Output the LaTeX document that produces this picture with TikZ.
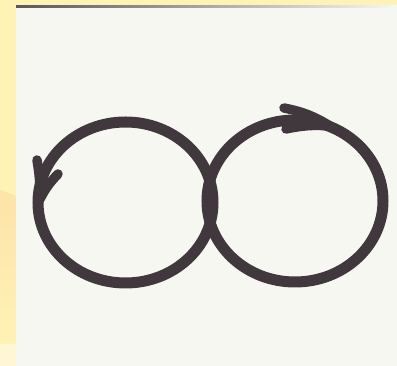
\documentclass[tikz,border=0pt]{standalone}
\definecolor{LoopClr}{rgb}{0.25,0.22,0.24}
\definecolor{PaperClr}{rgb}{0.97,0.97,0.95}
\definecolor{EdgeClr}{rgb}{1,0.95,0.71}
\definecolor{SpotClr}{rgb}{0.99,0.89,0.66}

\begin{document}
\begin{tikzpicture}[x=1pt,y=1pt,
  loop/.style={line width=11pt,color=LoopClr},
  barb/.style={line width=9.5pt,color=LoopClr,line cap=round},
  ]
\useasboundingbox (0,0) rectangle (397,366);

% page and paper
\fill[EdgeClr] (0,0) rectangle (397,366);
\shade[top color=SpotClr,bottom color=EdgeClr] (0,20) -- (0,176) -- (16,170) -- (16,20) -- cycle;
\fill[EdgeClr!60!white] (0,0) rectangle (16,22);
\fill[PaperClr] (16,0) rectangle (397,358);
\shade[left color=LoopClr!85,right color=PaperClr] (16,358) rectangle (397,360);

\coordinate (L) at (125.5,163.5);
\coordinate (R) at (295,165);

% the two loops
\draw[loop] (L) ellipse [x radius=87.5,y radius=80.5];
\draw[loop] (R) ellipse [x radius=88,y radius=81];

% arrow heads
\coordinate (Ltip) at (40,167);
\coordinate (La) at (37,206);
\coordinate (Lb) at (58,192);
\draw[barb] (La) to[bend left=5] (Ltip);
\draw[barb] (Lb) to[bend right=8] (Ltip);

\coordinate (Rtip) at (330,240);
\coordinate (Ra) at (284,258);
\coordinate (Rb) at (286,237);
\draw[barb] (Ra) to[bend left=10] (Rtip);
\draw[barb] (Rb) to[bend left=8] (Rtip);

\end{tikzpicture}
\end{document}
